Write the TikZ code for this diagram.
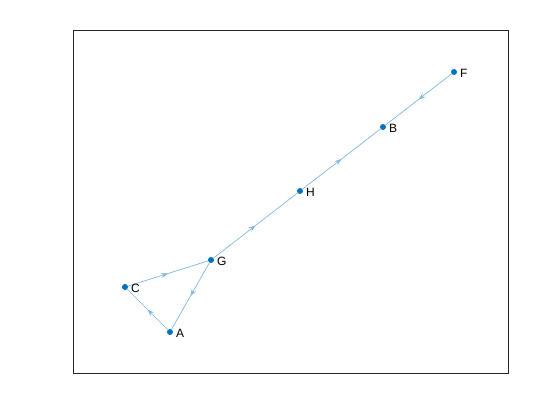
\documentclass[tikz,border=0pt]{standalone}
\usepackage{fontspec}
\setmainfont{Liberation Sans}
\usetikzlibrary{decorations.markings,arrows.meta}
\definecolor{nodeblue}{RGB}{0,114,189}
\definecolor{edgeblue}{RGB}{128,185,222}
\definecolor{axisgray}{RGB}{38,38,38}
\begin{document}
\begin{tikzpicture}[x=1pt,y=-1pt,
  vert/.style={circle,fill=nodeblue,inner sep=0pt,minimum size=6pt},
  lbl/.style={anchor=west,font=\fontsize{12}{13}\selectfont,inner sep=0pt,xshift=6pt,yshift=-1pt},
  edge/.style={draw=edgeblue,line width=0.7pt,postaction={decorate},
    decoration={markings,mark=at position 0.5 with {\arrow[edgeblue]{Stealth[length=7pt,width=5pt,inset=2.5pt]}}}}]
\useasboundingbox (0,0) rectangle (560,420);
\fill[white] (0,0) rectangle (560,420);
\draw[axisgray,line width=0.6pt] (73,30) rectangle (508,373);
\node[vert] (F) at (454,72) {};
\node[vert] (B) at (383,127) {};
\node[vert] (H) at (300,191) {};
\node[vert] (G) at (211,260) {};
\node[vert] (C) at (125,287) {};
\node[vert] (A) at (170,332) {};
\draw[edge] (F) -- (B);
\draw[edge] (H) -- (B);
\draw[edge] (G) -- (H);
\draw[edge] (C) -- (G);
\draw[edge] (G) -- (A);
\draw[edge] (A) -- (C);
\node[lbl] (lF) at (F.center) {F};
\node[lbl] (lB) at (B.center) {B};
\node[lbl] (lH) at (H.center) {H};
\node[lbl] (lG) at (G.center) {G};
\node[lbl] (lC) at (C.center) {C};
\node[lbl] (lA) at (A.center) {A};
\end{tikzpicture}
\end{document}
